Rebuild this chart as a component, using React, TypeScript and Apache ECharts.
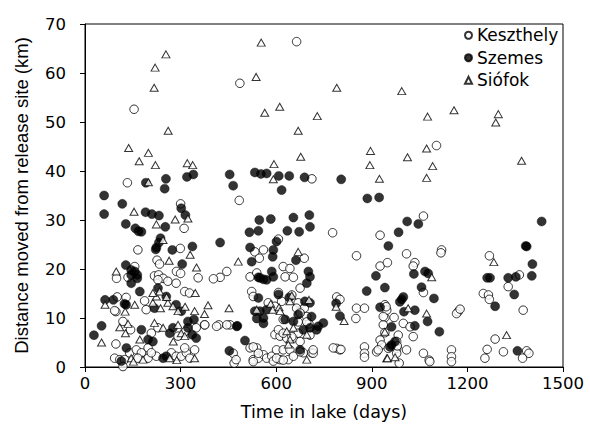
import React, { useEffect, useRef } from "react";
import * as echarts from "echarts";

const xTicks = [0, 300, 600, 900, 1200, 1500];
const yTicks = [0, 10, 20, 30, 40, 50, 60, 70];
const seriesNames = ["Keszthely", "Szemes", "Siófok"];

const keszthely: number[][] = [
  [154, 52.6], [133, 37.6], [664, 66.4], [486, 57.9], [712, 38.4], [484, 34.0], [1103, 45.2],
  [300, 33.3], [311, 28.3], [166, 23.9], [299, 24.2], [226, 21.8], [234, 21.0], [287, 19.5], [300, 19.1],
  [218, 18.6], [231, 18.8], [245, 18.1], [135, 18.3], [156, 20.5], [99, 18.1], [97, 4.7], [101, 14.3],
  [129, 14.2], [97, 11.3], [260, 17.5], [286, 17.1], [313, 15.4], [328, 15.1], [355, 18.2], [229, 17.8],
  [93, 11.5], [187, 13.5], [192, 11.7], [375, 8.6], [119, 9.3], [143, 7.6], [229, 8.0], [208, 6.9],
  [292, 6.3], [316, 7.3], [349, 8.0], [140, 2.9], [161, 3.5], [177, 2.9], [166, 1.8], [198, 3.9],
  [93, 1.8], [109, 1.5], [124, 1.5], [119, 0.1], [198, 1.8], [224, 2.2], [208, 2.9], [271, 2.9],
  [286, 2.2], [302, 2.2], [318, 2.9], [329, 1.8], [313, 3.9], [344, 3.5],
  [607, 26.1], [777, 27.4], [533, 23.5], [560, 23.9], [547, 22.2], [688, 22.2], [424, 18.3], [445, 19.5],
  [518, 18.4], [539, 19.2], [622, 20.5], [643, 20.1], [628, 18.4], [654, 18.3],
  [926, 26.9], [852, 22.7], [926, 20.6], [790, 14.3], [800, 13.8], [852, 12.0], [877, 12.0], [850, 9.9],
  [941, 10.1], [936, 8.6], [926, 5.5], [931, 4.5], [877, 4.1], [877, 2.8], [790, 3.8], [800, 3.5], [915, 3.1],
  [376, 8.6], [420, 8.6], [455, 8.6], [465, 2.8], [468, 0.8], [413, 8.3], [445, 8.6], [523, 15.4],
  [528, 14.4], [575, 13.1], [596, 12.4], [617, 13.4], [622, 9.7], [669, 13.1], [675, 11.4], [688, 12.0],
  [696, 10.3], [703, 8.8], [596, 6.6], [612, 6.3], [633, 5.9], [654, 5.9], [669, 6.9], [518, 3.9],
  [539, 3.9], [474, 1.5], [528, 1.5], [544, 1.8], [560, 2.5], [570, 1.8], [586, 2.2], [601, 3.5],
  [622, 3.5], [643, 3.5], [591, 1.2], [612, 1.5], [638, 1.5], [654, 2.2], [685, 2.9], [711, 2.9],
  [779, 3.9], [675, 16.1], [403, 18.0], [528, 4.1], [544, 2.8], [601, 1.8], [622, 1.4], [675, 3.1],
  [716, 2.8], [528, 1.1], [607, 15.2], [649, 14.7], [664, 12.0], [675, 11.0], [696, 9.2], [669, 9.2],
  [607, 7.6], [622, 6.9], [649, 6.2], [675, 5.2], [706, 6.5], [716, 3.5],
  [1062, 15.2], [941, 12.7], [947, 11.6], [936, 10.3], [941, 7.0], [999, 8.9], [1020, 8.2], [1030, 6.2],
  [983, 6.5], [978, 5.2], [952, 3.8], [920, 3.5], [978, 3.8], [978, 2.8], [1009, 3.5], [986, 0.8],
  [803, 3.6], [877, 2.0], [1062, 2.8], [1080, 1.4], [1150, 3.5], [1150, 2.1], [1150, 1.1], [1171, 11.3],
  [1062, 30.8], [1009, 23.1], [1035, 21.3], [1030, 20.6], [1119, 23.9], [1117, 23.3], [949, 21.3],
  [1166, 10.9], [1177, 11.8], [1287, 5.7], [1386, 3.3], [1393, 2.8], [1373, 1.8], [1262, 3.6], [1255, 1.8],
  [1313, 3.1], [1082, 1.1], [970, 10.1], [945, 12.3], [980, 4.3], [1269, 22.7], [1250, 15.0], [1266, 14.7],
  [1269, 13.8], [1363, 18.8], [1328, 16.4], [1375, 11.6],
];

const szemes: number[][] = [
  [60, 35.0], [191, 37.6], [254, 38.4], [250, 36.4], [320, 38.8], [340, 39.3],
  [454, 39.3], [465, 37.0], [533, 39.7], [552, 39.4], [570, 39.5], [608, 39.0], [641, 39.0], [689, 38.7],
  [804, 38.3], [617, 36.1], [886, 34.4], [923, 34.6],
  [117, 33.3], [60, 31.2], [190, 31.6], [210, 31.2], [232, 30.9], [128, 29.2], [158, 28.3], [168, 27.7],
  [177, 27.6], [252, 28.6], [302, 32.4], [315, 31.0], [237, 26.3], [232, 25.4], [224, 24.4], [222, 24.0],
  [274, 23.9], [337, 24.6], [305, 21.0], [128, 20.8], [145, 19.8], [156, 19.5], [164, 18.8], [145, 18.8],
  [164, 18.1], [52, 8.4], [28, 6.5], [63, 13.7], [89, 13.7], [129, 12.7],
  [145, 17.1], [172, 15.4], [229, 16.1], [255, 14.4], [124, 12.9], [218, 12.0], [286, 12.7], [302, 11.4],
  [342, 9.7], [177, 7.6], [198, 5.6], [213, 5.2], [276, 8.0], [266, 6.9], [323, 8.0], [336, 6.6],
  [349, 5.9], [323, 9.3], [130, 3.9], [114, 1.2], [245, 1.8], [255, 2.2],
  [547, 30.0], [583, 30.2], [654, 30.5], [704, 31.0], [706, 28.6], [516, 27.5], [544, 27.8], [635, 27.8],
  [672, 27.6], [601, 25.6], [424, 25.4], [518, 24.4], [591, 23.9], [589, 22.5], [662, 21.8], [523, 21.5],
  [544, 18.3], [560, 17.9], [586, 19.5], [591, 18.4], [701, 19.5], [706, 18.4],
  [952, 24.7], [913, 18.6], [884, 15.5], [941, 16.2], [800, 10.4], [926, 12.2],
  [478, 8.4], [453, 3.3], [502, 5.4], [476, 8.3],
  [544, 14.1], [607, 14.8], [533, 11.4], [549, 11.4], [560, 10.0], [570, 11.7], [628, 9.7], [641, 14.2],
  [669, 10.7], [654, 9.3], [690, 13.4], [706, 13.1], [732, 8.3], [748, 9.0], [727, 7.6], [685, 7.6],
  [706, 8.0], [675, 3.5], [549, 18.2], [570, 17.8], [696, 17.1], [711, 10.3], [539, 9.9], [560, 8.9],
  [1032, 19.0], [1067, 19.5], [1077, 19.1], [1056, 16.3], [1095, 14.0], [788, 13.0], [994, 13.8],
  [999, 14.3], [988, 13.3], [1001, 11.3], [1035, 11.6], [1075, 9.3], [1035, 8.4], [1112, 7.2], [962, 8.2],
  [973, 5.2], [962, 4.5], [957, 4.1],
  [1011, 29.7], [1046, 29.2], [984, 27.5], [1357, 3.3], [1287, 12.4], [1262, 18.2], [1271, 18.2],
  [1328, 18.2], [1352, 18.4], [1347, 14.8], [1383, 24.7], [1386, 24.6], [1404, 21.0], [1402, 18.6], [1433, 29.7],
];

const siofok: number[][] = [
  [254, 63.8], [220, 61.1], [217, 57.0], [261, 48.2], [137, 44.7], [170, 42.0], [199, 43.7], [221, 41.2],
  [321, 41.6], [338, 41.2], [199, 37.7],
  [553, 66.2], [537, 59.2], [790, 57.0], [611, 53.1], [564, 51.9], [729, 51.2], [669, 48.2], [677, 42.9],
  [593, 41.4], [591, 38.3], [896, 44.1], [894, 41.2], [924, 38.4],
  [994, 56.3], [1075, 51.1], [1158, 52.4], [1297, 51.6], [1289, 49.9], [1072, 44.6], [1012, 42.8],
  [1091, 41.0], [1072, 38.6], [1370, 42.1],
  [154, 31.7], [283, 30.1], [323, 30.3], [224, 29.1], [245, 25.9], [264, 21.7], [330, 22.9], [350, 20.3],
  [98, 19.5], [52, 5.0], [63, 12.7], [346, 15.1], [156, 12.7], [213, 13.1], [224, 14.4], [237, 12.0],
  [260, 13.1], [276, 12.4], [292, 11.4], [234, 15.4], [213, 15.1], [344, 11.4], [375, 10.8], [386, 12.6],
  [109, 8.1], [135, 8.8], [127, 6.9], [172, 5.6], [218, 9.0], [245, 8.0], [292, 8.6], [302, 6.9],
  [313, 6.3], [145, 1.8], [182, 1.5], [266, 1.8], [344, 1.8], [126, 11.3], [256, 14.3], [314, 12.3],
  [277, 5.2], [152, 1.1], [288, 1.4],
  [669, 23.5], [481, 21.5], [788, 12.3], [813, 9.4], [941, 7.2], [947, 1.8], [452, 12.0],
  [583, 12.9], [589, 11.7], [609, 12.2], [649, 14.6], [643, 13.4], [539, 11.7], [612, 11.4], [703, 13.7],
  [633, 7.3], [654, 8.0], [696, 6.6], [643, 5.6], [638, 4.6], [696, 1.5],
  [1088, 18.3], [1014, 12.0], [1072, 10.9], [949, 1.8], [973, 2.0], [1323, 6.5], [1283, 21.4],
];

const WIDE = "'DejaVu Sans', 'Liberation Sans', Arial, sans-serif";
const NARROW = "'Liberation Sans', Arial, sans-serif";

export default function App() {
  const ref = useRef<HTMLDivElement>(null);
  useEffect(() => {
    if (!ref.current) return;
    const chart = echarts.init(ref.current, undefined, { renderer: "svg" });
    chart.setOption({
      animation: false,
      backgroundColor: "#fff",
      textStyle: { fontFamily: WIDE, color: "#000" },
      grid: {
        left: 85, right: 27, top: 24, bottom: 64,
        show: true, borderColor: "#000", borderWidth: 1, backgroundColor: "transparent",
      },
      legend: {
        orient: "vertical",
        left: 464,
        top: 24,
        padding: 0,
        itemWidth: 7,
        itemHeight: 7,
        itemGap: 0,
        data: seriesNames,
        textStyle: { fontSize: 17, color: "#000", fontFamily: WIDE, lineHeight: 22.5 },
      },
      xAxis: {
        type: "value",
        min: xTicks[0],
        max: xTicks[xTicks.length - 1],
        interval: 300,
        name: "Time in lake (days)",
        nameLocation: "middle",
        nameGap: 36,
        nameTextStyle: { fontSize: 17.5, color: "#000", fontFamily: WIDE },
        axisLine: { onZero: false, lineStyle: { color: "#000", width: 1 } },
        axisTick: { show: true, inside: false, length: 5, lineStyle: { color: "#000" } },
        axisLabel: {
          fontSize: 16.5, color: "#000", margin: 8, fontFamily: WIDE,
          formatter: (v: number) => String(v),
        },
        splitLine: { show: false },
      },
      yAxis: {
        type: "value",
        min: yTicks[0],
        max: yTicks[yTicks.length - 1],
        interval: 10,
        name: "Distance moved from release site (km)",
        nameLocation: "middle",
        nameGap: 54,
        nameTextStyle: { fontSize: 18.5, color: "#000", fontFamily: NARROW },
        axisLine: { onZero: false, lineStyle: { color: "#000", width: 1 } },
        axisTick: { show: true, inside: false, length: 5, lineStyle: { color: "#000" } },
        axisLabel: {
          fontSize: 16.5, color: "#000", margin: 19, fontFamily: WIDE,
          formatter: (v: number) => String(v),
        },
        splitLine: { show: false },
      },
      series: [
        {
          name: seriesNames[0],
          type: "scatter",
          data: keszthely,
          symbol: "circle",
          symbolSize: 8.5,
          itemStyle: { color: "#fff", borderColor: "#000", borderWidth: 1 },
        },
        {
          name: seriesNames[1],
          type: "scatter",
          data: szemes,
          symbol: "circle",
          symbolSize: 9,
          itemStyle: { color: "#000", borderColor: "#000", borderWidth: 0.5 },
        },
        {
          name: seriesNames[2],
          type: "scatter",
          data: siofok,
          symbol: "triangle",
          symbolSize: [8, 7],
          itemStyle: { color: "#fff", borderColor: "#000", borderWidth: 1 },
        },
      ],
    });
    return () => chart.dispose();
  }, []);
  return <div ref={ref} style={{ width: 590, height: 431, position: "absolute", left: 0, top: 0 }} />;
}
